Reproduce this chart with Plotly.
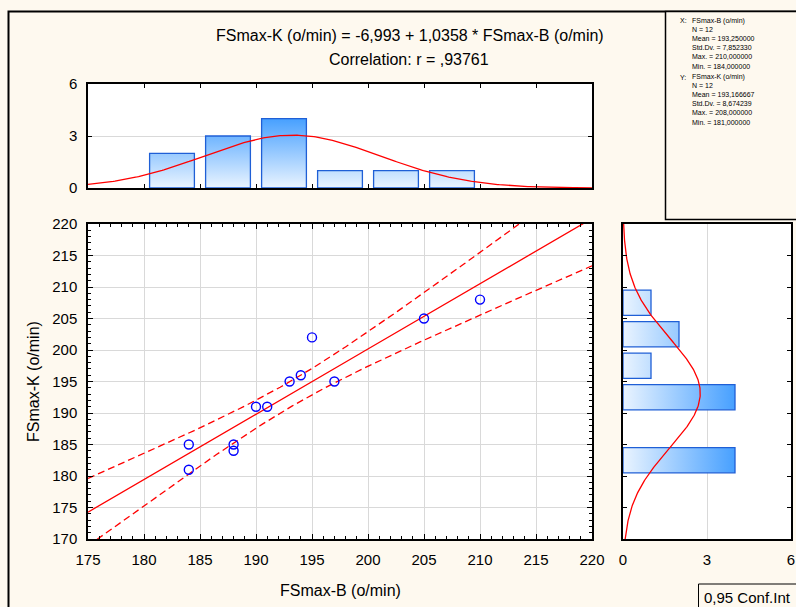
import numpy as np
import plotly.graph_objects as go

# ---------------- data ----------------
x_name = "FSmax-B (o/min)"
y_name = "FSmax-K (o/min)"
fs_b = [184, 184, 188, 188, 190, 191, 193, 194, 195, 197, 205, 210]
fs_k = [185, 181, 185, 184, 191, 191, 195, 196, 202, 195, 205, 208]

bin_lo = [180, 185, 190, 195, 200, 205]
bin_width = 5
top_counts = [2, 3, 4, 1, 1, 1]      # FSmax-B histogram
right_counts = [4, 0, 4, 1, 2, 1]    # FSmax-K histogram

title_1 = "FSmax-K (o/min) = -6,993 + 1,0358 * FSmax-B (o/min)"
title_2 = "Correlation: r = ,93761"
t_crit = 2.228  # t(0.975, df=10)

stats_x = ["X:", "FSmax-B (o/min)", "N = 12", "Mean = 193,250000", "Std.Dv. = 7,852330",
           "Max. = 210,000000", "Min. = 184,000000"]
stats_y = ["Y:", "FSmax-K (o/min)", "N = 12", "Mean = 193,166667", "Std.Dv. = 8,674239",
           "Max. = 208,000000", "Min. = 181,000000"]

# ---------------- helpers ----------------
W, H = 796, 607
def px(v):
    return v / W
def py(v):
    return 1 - v / H

xb = np.array(fs_b, float)
yk = np.array(fs_k, float)
n = len(xb)
slope, intercept = np.polyfit(xb, yk, 1)
xs = np.linspace(175, 220, 300)
yhat = intercept + slope * xs
resid = yk - (intercept + slope * xb)
s = np.sqrt(np.sum(resid ** 2) / (n - 2))
sxx = np.sum((xb - xb.mean()) ** 2)
half = t_crit * s * np.sqrt(1 / n + (xs - xb.mean()) ** 2 / sxx)

RED = "#ff0000"
EDGE = "#1f5fd6"
GRAD = [[0, "#eaf4ff"], [1, "#47a0ff"]]
BG = "#fef9ef"

fig = go.Figure()

# scatter + fit
fig.add_trace(go.Scatter(x=xs, y=yhat, mode="lines", line=dict(color=RED, width=1.3),
                         xaxis="x", yaxis="y", hoverinfo="skip"))
for sign in (1, -1):
    fig.add_trace(go.Scatter(x=xs, y=yhat + sign * half, mode="lines",
                             line=dict(color=RED, width=1.3, dash="7px,4px"),
                             xaxis="x", yaxis="y", hoverinfo="skip"))
fig.add_trace(go.Scatter(x=fs_b, y=fs_k, mode="markers",
                         marker=dict(symbol="circle-open", size=9, color="#0000ff",
                                     line=dict(width=1.4, color="#0000ff")),
                         xaxis="x", yaxis="y", cliponaxis=False))

# top histogram (bars as filled polygons with gradient)
bx, by = [], []
for lo, c in zip(bin_lo, top_counts):
    if c <= 0:
        continue
    a, b = lo + 0.5, lo + bin_width - 0.5
    bx += [a, a, b, b, a, None]
    by += [0, c, c, 0, 0, None]
fig.add_trace(go.Scatter(x=bx, y=by, mode="lines", fill="toself",
                         line=dict(color=EDGE, width=1.3),
                         fillgradient=dict(type="vertical", colorscale=GRAD, start=0, stop=4),
                         xaxis="x2", yaxis="y2", hoverinfo="skip"))
m1, s1 = xb.mean(), xb.std(ddof=1)
dens1 = n * bin_width / (s1 * np.sqrt(2 * np.pi)) * np.exp(-0.5 * ((xs - m1) / s1) ** 2)
fig.add_trace(go.Scatter(x=xs, y=dens1, mode="lines", line=dict(color=RED, width=1.3),
                         xaxis="x2", yaxis="y2", hoverinfo="skip"))

# right histogram
rx, ry = [], []
for lo, c in zip(bin_lo, right_counts):
    if c <= 0:
        continue
    a, b = lo + 0.5, lo + bin_width - 0.5
    ry += [a, a, b, b, a, None]
    rx += [0, c, c, 0, 0, None]
fig.add_trace(go.Scatter(x=rx, y=ry, mode="lines", fill="toself",
                         line=dict(color=EDGE, width=1.3),
                         fillgradient=dict(type="horizontal", colorscale=GRAD, start=0, stop=4),
                         xaxis="x3", yaxis="y3", hoverinfo="skip"))
ys = np.linspace(170, 220, 300)
m2, s2 = yk.mean(), yk.std(ddof=1)
dens2 = n * bin_width / (s2 * np.sqrt(2 * np.pi)) * np.exp(-0.5 * ((ys - m2) / s2) ** 2)
fig.add_trace(go.Scatter(x=dens2, y=ys, mode="lines", line=dict(color=RED, width=1.3),
                         xaxis="x3", yaxis="y3", hoverinfo="skip"))

FONT = "Liberation Sans, Arial, sans-serif"
GRID = "#d9d9d9"
common = dict(showline=True, linecolor="black", linewidth=1.5, mirror="ticks",
              ticks="inside", tickcolor="black", zeroline=False, automargin=False,
              tickfont=dict(size=15, color="black", family=FONT))

sx = [px(88), px(592)]
sy = [py(539), py(224)]

fig.update_layout(
    width=W, height=H, margin=dict(l=0, r=0, t=0, b=0, autoexpand=False),
    paper_bgcolor=BG, plot_bgcolor="white", showlegend=False,
    font=dict(family=FONT, color="black"),
    xaxis=dict(domain=sx, range=[175, 220], tick0=175, dtick=5, anchor="y",
               showgrid=True, gridcolor=GRID, ticklen=5, ticklabelstandoff=6,
               minor=dict(ticks="inside", ticklen=3, dtick=1, tick0=175, tickcolor="black", showgrid=False),
               **common),
    yaxis=dict(domain=sy, range=[170, 220], tick0=170, dtick=5, anchor="x",
               showgrid=True, gridcolor=GRID, ticklen=5, ticklabelstandoff=6,
               minor=dict(ticks="inside", ticklen=3, dtick=1, tick0=170, tickcolor="black", showgrid=False),
               **common),
    xaxis2=dict(domain=sx, range=[175, 220], tick0=175, dtick=5, anchor="y2",
                showgrid=False, showticklabels=False, ticklen=4, **common),
    yaxis2=dict(domain=[py(188), py(84)], range=[0, 6], dtick=3, anchor="x2",
                showgrid=True, gridcolor=GRID, ticklen=4, ticklabelstandoff=6, **common),
    xaxis3=dict(domain=[px(623), px(791)], range=[0, 6], dtick=3, anchor="y3",
                showgrid=True, gridcolor=GRID, ticklen=0, ticklabelstandoff=6, **common),
    yaxis3=dict(domain=sy, range=[170, 220], tick0=170, dtick=5, anchor="x3",
                showgrid=False, showticklabels=False, ticklen=4, **common),
)

ann = []
ann.append(dict(text=title_1, x=px(410), y=py(35.5), xref="paper", yref="paper",
                showarrow=False, xanchor="center", yanchor="middle", font=dict(size=16)))
ann.append(dict(text=title_2, x=px(409), y=py(60), xref="paper", yref="paper",
                showarrow=False, xanchor="center", yanchor="middle", font=dict(size=16)))
ann.append(dict(text=x_name, x=px(340), y=py(590), xref="paper", yref="paper",
                showarrow=False, xanchor="center", yanchor="middle", font=dict(size=16)))
ann.append(dict(text=y_name, x=px(33), y=py(382), xref="paper", yref="paper", textangle=-90,
                showarrow=False, xanchor="center", yanchor="middle", font=dict(size=16)))
ann.append(dict(text="0,95 Conf.Int", x=px(702), y=py(597), xref="paper", yref="paper",
                showarrow=False, xanchor="left", yanchor="middle", font=dict(size=15)))

# stats box text (one annotation per block so lines do not collide)
STAT_FS = 7
def stats_block(lines, y0):
    out = []
    out.append(dict(text=lines[0], x=px(678), y=py(y0), xref="paper", yref="paper",
                    showarrow=False, xanchor="left", yanchor="middle", font=dict(size=STAT_FS)))
    out.append(dict(text="<br>".join(lines[1:]), x=px(691), y=py(y0 - 5), xref="paper", yref="paper",
                    showarrow=False, xanchor="left", yanchor="top", align="left",
                    borderpad=0, font=dict(size=STAT_FS)))
    return out
ann += stats_block(stats_x, 20.7)
ann += stats_block(stats_y, 77)
fig.update_layout(annotations=ann)

shapes = [
    dict(type="rect", xref="paper", yref="paper", x0=px(8.5), x1=1.05, y0=-0.05, y1=py(11.5),
         line=dict(color="black", width=2), layer="below"),
    dict(type="rect", xref="paper", yref="paper", x0=px(665.5), x1=1.05, y0=py(219.5), y1=py(11.5),
         line=dict(color="black", width=1.5), fillcolor=BG, layer="below"),
    dict(type="rect", xref="paper", yref="paper", x0=px(698.5), x1=1.05, y0=-0.05, y1=py(584),
         line=dict(color="black", width=1), fillcolor=BG, layer="below"),
]
fig.update_layout(shapes=shapes)

fig.write_html("out.html", config={"displayModeBar": False},
               post_script="document.body.style.margin='0';document.body.style.overflow='hidden';")
